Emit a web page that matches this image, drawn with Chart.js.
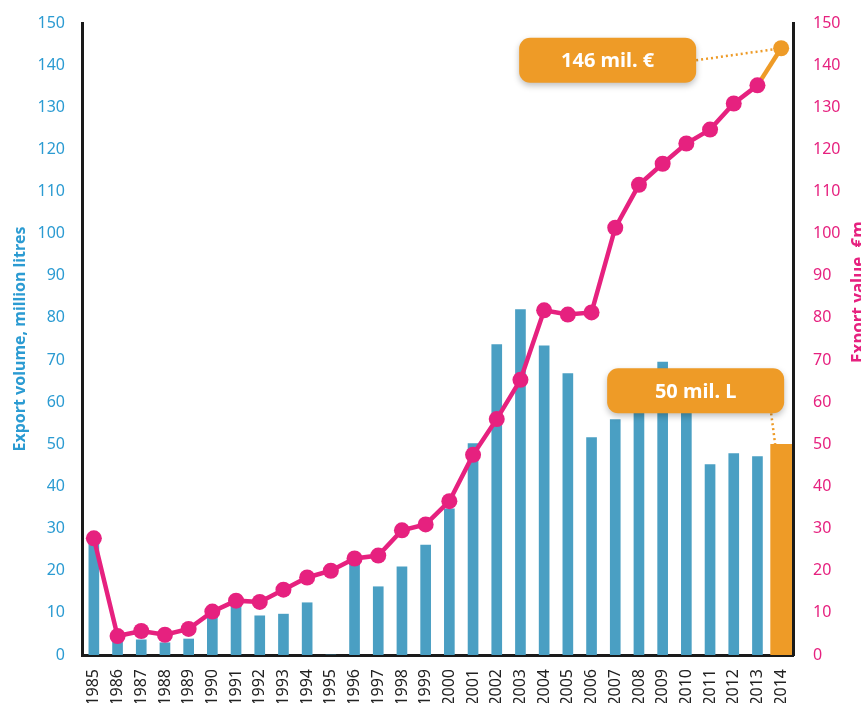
<!DOCTYPE html>
<html lang="en">
<head>
    <meta charset="UTF-8">
    <title>Export volume and value</title>
    <style>
        body {
            margin: 0;
            background: #ffffff;
            overflow: hidden;
        }
        .wrap {
            width: 861px;
            height: 703px;
            position: relative;
        }
    </style>
</head>
<body>
    <div class="wrap">
        <canvas id="chart"></canvas>
    </div>

    <script src="https://cdn.jsdelivr.net/npm/chart.js"></script>
    <script>
        const years = ['1985', '1986', '1987', '1988', '1989', '1990', '1991', '1992', '1993', '1994',
            '1995', '1996', '1997', '1998', '1999', '2000', '2001', '2002', '2003', '2004',
            '2005', '2006', '2007', '2008', '2009', '2010', '2011', '2012', '2013', '2014'];

        // export volume, million litres (blue bars, 2014 drawn separately in orange)
        const volume = [27, 3.6, 3.6, 2.9, 3.8, 10, 12.6, 9.3, 9.7, 12.4,
            0, 22.8, 16.2, 20.9, 26.1, 34.7, 50.2, 73.7, 82, 73.4,
            66.8, 51.6, 55.9, 63, 69.5, 60, 45.2, 47.8, 47.1, null];
        const volume2014 = [null, null, null, null, null, null, null, null, null, null,
            null, null, null, null, null, null, null, null, null, null,
            null, null, null, null, null, null, null, null, null, 50];

        // export value, € million (pink line)
        const value = [27.7, 4.5, 5.7, 4.8, 6.2, 10.3, 12.9, 12.6, 15.5, 18.4,
            20.0, 22.9, 23.6, 29.6, 31.0, 36.5, 47.5, 56.0, 65.3, 81.8,
            80.8, 81.3, 101.4, 111.6, 116.6, 121.4, 124.7, 130.9, 135.2, 144];

        const axisTicks = [0, 10, 20, 30, 40, 50, 60, 70, 80, 90, 100, 110, 120, 130, 140, 150];

        const valueLabel = '146 mil. €';
        const volumeLabel = '50 mil. L';

        const BLUE = '#4a9fc3';
        const BLUE_TEXT = '#2b9bd2';
        const PINK = '#e6217f';
        const ORANGE = '#ee9b27';
        const FONT = "'Noto Sans', 'Open Sans', sans-serif";

        const last = years.length - 1;

        function roundBox(ctx, x, y, w, h, r) {
            ctx.beginPath();
            ctx.moveTo(x + r, y);
            ctx.arcTo(x + w, y, x + w, y + h, r);
            ctx.arcTo(x + w, y + h, x, y + h, r);
            ctx.arcTo(x, y + h, x, y, r);
            ctx.arcTo(x, y, x + w, y, r);
            ctx.closePath();
        }

        function callout(ctx, x, y, w, h, text) {
            ctx.save();
            ctx.shadowColor = 'rgba(0,0,0,0.25)';
            ctx.shadowBlur = 6;
            ctx.shadowOffsetY = 3;
            roundBox(ctx, x, y, w, h, 11);
            ctx.fillStyle = ORANGE;
            ctx.fill();
            ctx.restore();
            ctx.save();
            ctx.fillStyle = '#ffffff';
            ctx.font = 'bold 20px ' + FONT;
            ctx.textAlign = 'center';
            ctx.textBaseline = 'middle';
            ctx.fillText(text, x + w / 2, y + h / 2 + 1);
            ctx.restore();
        }

        function dotted(ctx, x1, y1, x2, y2) {
            ctx.save();
            ctx.strokeStyle = ORANGE;
            ctx.lineWidth = 2.5;
            ctx.setLineDash([2, 3]);
            ctx.beginPath();
            ctx.moveTo(x1, y1);
            ctx.lineTo(x2, y2);
            ctx.stroke();
            ctx.restore();
        }

        // orange callouts + right axis title (reads bottom to top like the left one)
        const extras = {
            id: 'extras',
            afterDatasetsDraw(chart) {
                const ctx = chart.ctx;
                const pt = chart.getDatasetMeta(0).data[last];
                const bar = chart.getDatasetMeta(2).data[last];

                const w = 177, h = 45;
                const bx1 = pt.x - 85 - w, by1 = pt.y + 12 - h / 2;
                dotted(ctx, bx1 + w, pt.y + 12, pt.x, pt.y);
                callout(ctx, bx1, by1, w, h, valueLabel);

                const bx2 = bar.x + 3 - w, by2 = bar.y - 31 - h;
                dotted(ctx, bar.x - 10, by2 + h, bar.x - 6, bar.y);
                callout(ctx, bx2, by2, w, h, volumeLabel);
            },
            afterDraw(chart) {
                const ctx = chart.ctx;
                ctx.save();
                ctx.translate(chart.width - 2, 292);
                ctx.rotate(-Math.PI / 2);
                ctx.fillStyle = PINK;
                ctx.font = 'bold 17px ' + FONT;
                ctx.textAlign = 'center';
                ctx.textBaseline = 'middle';
                ctx.fillText('Export value, €m', 0, 0);
                ctx.restore();
            }
        };

        const ctx = document.getElementById('chart').getContext('2d');
        const chart = new Chart(ctx, {
            data: {
                labels: years,
                datasets: [{
                    type: 'line',
                    label: 'Export value',
                    data: value,
                    yAxisID: 'yValue',
                    borderColor: PINK,
                    borderWidth: 4.5,
                    pointRadius: 8,
                    pointHoverRadius: 8,
                    pointBorderWidth: 0,
                    pointBackgroundColor: value.map((v, i) => i === last ? ORANGE : PINK),
                    segment: {
                        borderColor: c => c.p1DataIndex === last ? ORANGE : PINK
                    },
                    tension: 0,
                    order: 0
                }, {
                    type: 'bar',
                    label: 'Export volume',
                    data: volume,
                    yAxisID: 'yVolume',
                    backgroundColor: BLUE,
                    barThickness: 10,
                    grouped: false,
                    order: 1
                }, {
                    type: 'bar',
                    label: 'Export volume 2014',
                    data: volume2014,
                    yAxisID: 'yVolume',
                    backgroundColor: ORANGE,
                    barThickness: 21,
                    grouped: false,
                    order: 1
                }]
            },
            options: {
                responsive: true,
                maintainAspectRatio: false,
                animation: false,
                layout: { padding: { top: 23, right: 0, left: 0, bottom: 0 } },
                plugins: {
                    legend: { display: false },
                    tooltip: { enabled: false }
                },
                scales: {
                    x: {
                        grid: { display: false },
                        border: { display: true, color: '#1a1a1a', width: 3 },
                        ticks: {
                            autoSkip: false,
                            minRotation: 90,
                            maxRotation: 90,
                            padding: 6,
                            color: '#222222',
                            font: { family: FONT, size: 16 }
                        },
                        afterFit: s => { s.height = 48; }
                    },
                    yVolume: {
                        position: 'left',
                        min: 0,
                        max: 150,
                        grid: { display: false },
                        border: { display: true, color: '#1a1a1a', width: 3 },
                        afterBuildTicks: s => { s.ticks = axisTicks.map(v => ({ value: v })); },
                        ticks: {
                            padding: 9,
                            color: BLUE_TEXT,
                            font: { family: FONT, size: 16 }
                        },
                        title: {
                            display: true,
                            text: 'Export volume, million litres',
                            color: BLUE_TEXT,
                            font: { family: FONT, size: 16, weight: 'bold' },
                            padding: { top: 11, bottom: 0 }
                        },
                        afterFit: s => { s.width = 82; }
                    },
                    yValue: {
                        position: 'right',
                        min: 0,
                        max: 150,
                        grid: { display: false },
                        border: { display: true, color: '#1a1a1a', width: 3 },
                        afterBuildTicks: s => { s.ticks = axisTicks.map(v => ({ value: v })); },
                        ticks: {
                            padding: 12,
                            color: PINK,
                            font: { family: FONT, size: 16 }
                        },
                        afterFit: s => { s.width = 68; }
                    }
                }
            },
            plugins: [extras]
        });
    </script>
</body>
</html>
